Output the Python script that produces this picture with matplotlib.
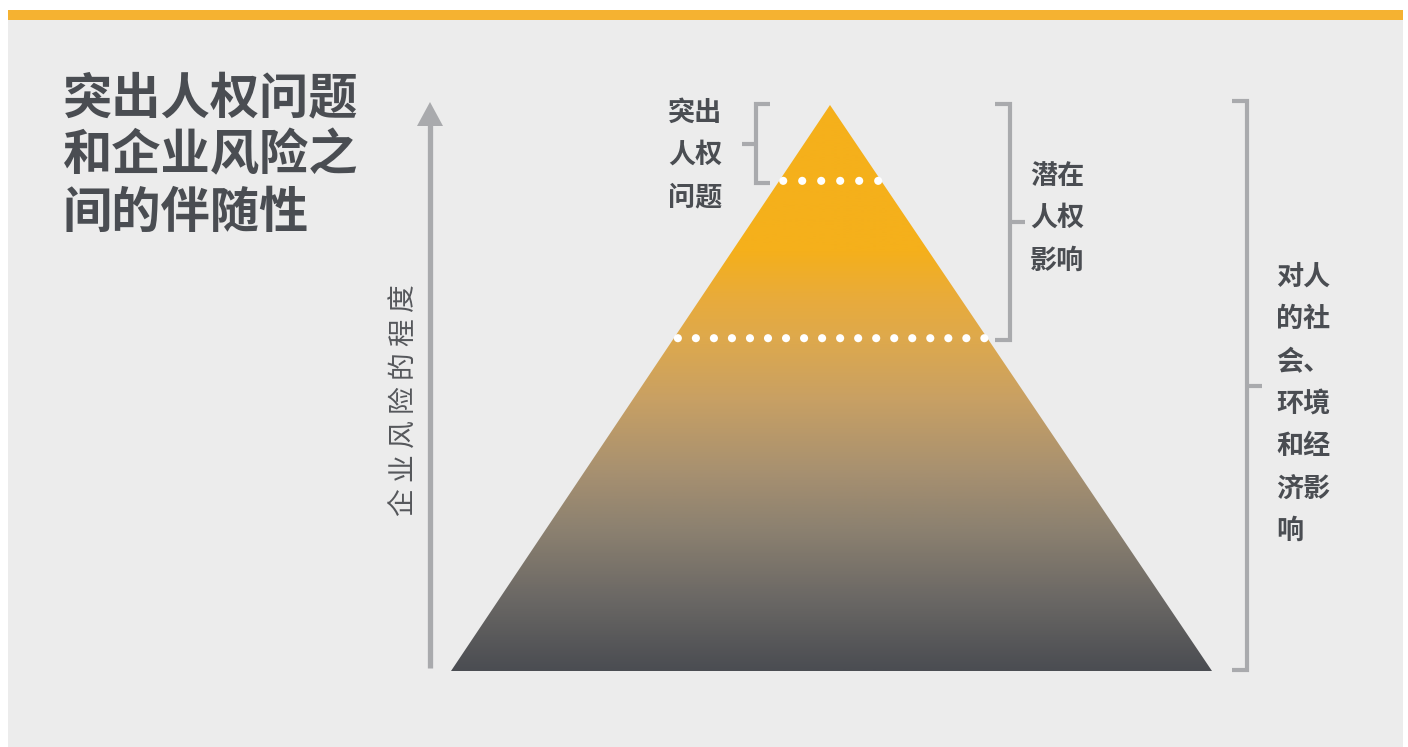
import numpy as np
import matplotlib
matplotlib.use("Agg")
import matplotlib.pyplot as plt
from matplotlib.patches import Polygon, Rectangle
from matplotlib.colors import LinearSegmentedColormap

plt.rcParams['font.family'] = ['Noto Sans CJK SC', 'DejaVu Sans']

# ---- content / data ----
title_lines = ["突出人权问题", "和企业风险之", "间的伴随性"]
axis_label = "企 业 风 险 的 程 度"
level_names = [["突出", "人权", "问题"],
               ["潜在", "人权", "影响"],
               ["对人", "的社", "会、", "环境", "和经", "济影", "响"]]
# fraction of pyramid height (from apex) where each level ends
level_bottoms = [0.134, 0.412, 1.0]
# gradient stops: (fraction of pyramid height from apex, colour)
grad_pos = [0.0, 0.256, 0.344, 0.411, 0.521, 0.645, 0.751, 0.873, 1.0]
grad_col = ["#f5b01b", "#f5b01b", "#e8ab3c", "#dea94c", "#c8a064",
            "#a89170", "#8c8170", "#6b6865", "#4b4d52"]

# ---- styling ----
W, H = 1408, 747
BG = "#ececec"
ORANGE = "#f5b231"
TEXT = "#4a4d52"
GREY = "#a9aaad"

fig = plt.figure(figsize=(W / 100, H / 100), dpi=100)
ax = fig.add_axes([0, 0, 1, 1])
ax.set_xlim(0, W)
ax.set_ylim(H, 0)
ax.axis("off")
fig.patch.set_facecolor("white")

# background panel and top bar
ax.add_patch(Rectangle((8, 20), 1395, 727, facecolor=BG, edgecolor="none", zorder=0))
ax.add_patch(Rectangle((8, 10), 1395, 10, facecolor=ORANGE, edgecolor="none", zorder=1))

# pyramid geometry
apex_x, apex_y = 830, 105
base_y = 671
base_l, base_r = 451, 1212
ph = base_y - apex_y

cmap = LinearSegmentedColormap.from_list("pyr", list(zip(grad_pos, grad_col)))
grad = np.linspace(0, 1, 600).reshape(-1, 1)
im = ax.imshow(grad, cmap=cmap, aspect="auto", interpolation="bilinear",
               extent=(base_l, base_r, base_y, apex_y), zorder=2)
tri = Polygon([(apex_x, apex_y), (base_l, base_y), (base_r, base_y)],
              closed=True, facecolor="none", edgecolor="none", transform=ax.transData)
ax.add_patch(tri)
im.set_clip_path(tri)

# dotted level separators
for frac in level_bottoms[:-1]:
    y = apex_y + frac * ph
    xl = apex_x - frac * (apex_x - base_l) + 4
    xr = apex_x + frac * (base_r - apex_x) - 3
    n = int(round((xr - xl) / 18.1)) + 1
    xs = np.linspace(xl, xr, n)
    ax.scatter(xs, np.full(n, y), s=34, color="white", edgecolors="none", zorder=4)

# vertical arrow
ax.plot([430, 430], [668, 122], color=GREY, lw=3.8, solid_capstyle="butt", zorder=3)
ax.add_patch(Polygon([(417, 126), (443, 126), (430, 102)], closed=True,
                     facecolor=GREY, edgecolor="none", zorder=3))
ax.text(404, 400, axis_label, rotation=90, ha="center", va="center",
        fontsize=20, color="#55575b", zorder=5)

# title
for i, line in enumerate(title_lines):
    ax.text(63, 99 + i * 57, line, ha="left", va="center", fontsize=35.5,
            fontweight="heavy", color=TEXT, zorder=5)

# brackets
def bracket(x, y0, y1, side, tick=14, lw=3.0):
    # side = +1 -> opening bracket "[" (ticks point right), -1 -> "]"
    kw = dict(color=GREY, lw=lw, solid_capstyle="butt", solid_joinstyle="miter", zorder=3)
    ax.plot([x + side * tick, x, x, x + side * tick], [y0, y0, y1, y1], **kw)
    ym = (y0 + y1) / 2
    ax.plot([x, x - side * tick], [ym, ym], **kw)

bracket(756, 104, 183, +1)
bracket(1010, 104, 340, -1, tick=15)
bracket(1247, 101, 670, -1, tick=15)

# level labels
label_x = [668, 1030, 1276]
label_cy = [155, 218, 404]
for names, lx, cy in zip(level_names, label_x, label_cy):
    n = len(names)
    for j, s in enumerate(names):
        y = cy + (j - (n - 1) / 2) * 42.3
        ax.text(lx, y, s, ha="left", va="center", fontsize=19.5, fontweight="bold",
                color=TEXT, zorder=5)

fig.savefig("out.png", dpi=100, facecolor="white")
